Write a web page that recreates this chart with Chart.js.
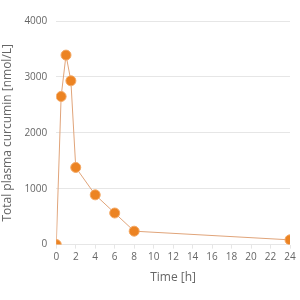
<!DOCTYPE html>
<html>
<head>
<script src="https://cdn.jsdelivr.net/npm/chart.js@4"></script>
<style>
  html, body { margin: 0; padding: 0; background: #fff; }
</style>
</head>
<body>
<canvas id="pkChart" width="300" height="300"></canvas>
<script>
// --- Data ---
const timeHours = [0, 0.5, 1, 1.5, 2, 4, 6, 8, 24];
const curcuminConc = [0, 2650, 3390, 2930, 1380, 890, 565, 240, 85];
const xTicks = [0, 2, 4, 6, 8, 10, 12, 14, 16, 18, 20, 22, 24];
const yTicks = [0, 1000, 2000, 3000, 4000];

const points = timeHours.map((t, i) => ({ x: t, y: curcuminConc[i] }));

Chart.defaults.font.family = "'Open Sans', sans-serif";
Chart.defaults.color = '#666';

new Chart(document.getElementById('pkChart'), {
    type: 'line',
    data: {
        datasets: [{
            data: points,
            borderColor: '#e0a47a',
            borderWidth: 1,
            backgroundColor: '#ec8322',
            pointBackgroundColor: '#ec8322',
            pointBorderColor: '#f3a763',
            pointBorderWidth: 1,
            pointRadius: 5,
            tension: 0
        }]
    },
    options: {
        responsive: false,
        animation: false,
        layout: { padding: { left: 0, right: 10, top: 21, bottom: 11 } },
        plugins: { legend: { display: false }, tooltip: { enabled: false } },
        scales: {
            x: {
                type: 'linear',
                min: 0,
                max: 24,
                afterBuildTicks: axis => { axis.ticks = xTicks.map(v => ({ value: v })); },
                grid: { display: true, drawOnChartArea: false, tickLength: 4, color: '#e6e6e6' },
                border: { display: false },
                ticks: { font: { size: 10 }, padding: 3, callback: v => String(v) },
                title: { display: true, text: 'Time [h]', font: { size: 12 }, padding: { top: 4 } }
            },
            y: {
                min: 0,
                max: 4000,
                afterBuildTicks: axis => { axis.ticks = yTicks.map(v => ({ value: v })); },
                grid: { color: '#e6e6e6', drawTicks: false },
                border: { display: false },
                ticks: { font: { size: 10 }, padding: 9, callback: v => String(v) },
                title: { display: true, text: 'Total plasma curcumin [nmol/L]', font: { size: 12 }, padding: { top: 0, bottom: 1 } }
            }
        }
    }
});
</script>
</body>
</html>
